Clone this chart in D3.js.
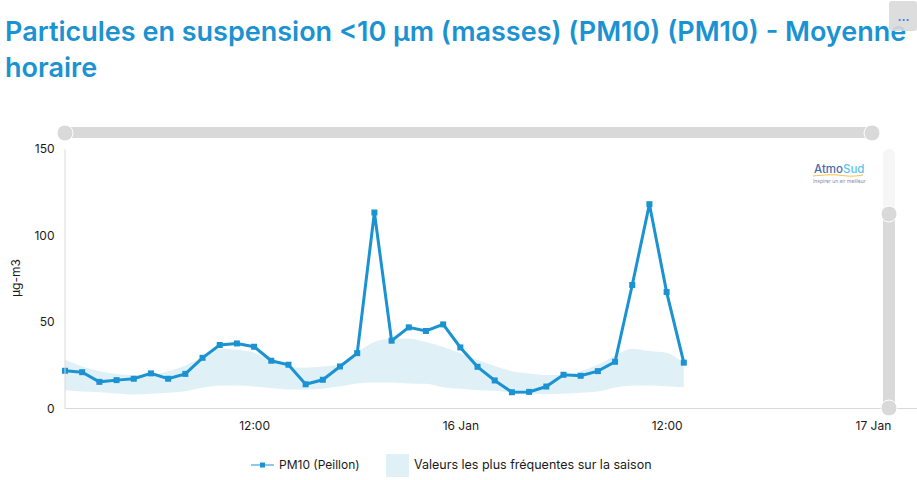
<!DOCTYPE html>
<html>
<head>
<meta charset="utf-8">
<script src="https://cdn.jsdelivr.net/npm/d3@7"></script>
<style>
  html, body { margin: 0; padding: 0; background: #fff; overflow: hidden; }
  svg { display: block; }
  text { font-family: Inter, "Open Sans", sans-serif; fill: #1a1a1a; }
  .axis path, .axis line { stroke: #d9d9d9; }
</style>
</head>
<body>
<svg id="chart" width="917" height="480"></svg>
<script>
const titleLines = ['Particules en suspension <10 µm (masses) (PM10) (PM10) - Moyenne', 'horaire'];
const unitLabel = 'µg-m3';
const seriesName = 'PM10 (Peillon)';
const bandName = 'Valeurs les plus fréquentes sur la saison';
const yTicks = [0, 50, 100, 150];
const xTickDates = ['2024-01-15T12:00Z', '2024-01-16T00:00Z', '2024-01-16T12:00Z', '2024-01-17T00:00Z'];
const xTickLabels = ['12:00', '16 Jan', '12:00', '17 Jan'];

const firstHour = new Date('2024-01-15T01:00Z');
const pm10 = [21.8, 21, 15.4, 16.4, 17.2, 20.3, 17.2, 20, 29.3, 36.7, 37.6, 35.7, 27.6, 25.3, 14, 16.6, 24.3,
    32, 113.3, 39.2, 46.9, 44.8, 48.6, 35.3, 24.1, 16.2, 9.4, 9.6, 12.7, 19.5, 18.9, 21.6, 27, 71.4, 118.1, 67.3, 26.5];
const bandHigh = [28.2, 24.3, 21.6, 20, 19.3, 19.5, 21.6, 24.9, 29.7, 34.6, 34, 32.4, 27.8, 24.3, 23.6, 24.3, 25.5,
    32.6, 38.4, 40.3, 40.3, 38.4, 35.5, 32, 28.2, 24.5, 21.6, 20.3, 19.3, 19.5, 21.6, 25.3, 30.7, 34.6, 33.2, 32.2, 25.9];
const bandLow = [10.6, 9.8, 9.4, 8.7, 8.1, 8.5, 9.1, 10, 12, 13.3, 13.3, 12.7, 11.8, 11, 11, 11.4, 12.8,
    14.5, 15.1, 15.1, 14.5, 14.3, 12.3, 11.4, 10.6, 10.2, 9.3, 8.5, 8.3, 8.5, 9.1, 9.8, 12.2, 13.1, 13.3, 12.9, 12.3];

const blue = '#1b92d1';
const bandColor = '#e0f0f7';
const grey = '#d9d9d9';

const hours = pm10.map((d, i) => d3.utcHour.offset(firstHour, i));
const x = d3.scaleUtc()
    .domain([firstHour, new Date('2024-01-17T02:34Z')])
    .range([65, 917]);
const y = d3.scaleLinear().domain([0, 150]).range([408.5, 149]);

const svg = d3.select('#chart');

// title
svg.selectAll('.title')
    .data(titleLines)
    .enter().append('text')
    .attr('class', 'title')
    .attr('x', 5)
    .attr('y', (d, i) => 41 + i * 36)
    .style('font-size', '27px')
    .style('font-weight', 600)
    .style('fill', blue)
    .text(d => d);

// band and line
const band = d3.area()
    .x((d, i) => x(hours[i]))
    .y0((d, i) => y(bandLow[i]))
    .y1(d => y(d))
    .curve(d3.curveMonotoneX);
svg.append('path').attr('d', band(bandHigh)).attr('fill', bandColor);

const line = d3.line()
    .x((d, i) => x(hours[i]))
    .y(d => y(d));
svg.append('path')
    .attr('d', line(pm10))
    .attr('fill', 'none')
    .attr('stroke', blue)
    .attr('stroke-width', 3);

const symbol = d3.symbol().type(d3.symbolSquare).size(36);
svg.selectAll('.pt')
    .data(pm10)
    .enter().append('path')
    .attr('class', 'pt')
    .attr('d', symbol)
    .attr('fill', blue)
    .attr('transform', (d, i) => `translate(${x(hours[i])},${y(d)})`);

// axes
const xAxis = d3.axisBottom(x)
    .tickValues(xTickDates.map(d => new Date(d)))
    .tickFormat((d, i) => xTickLabels[i])
    .tickSize(0)
    .tickPadding(13);
const gx = svg.append('g').attr('class', 'axis').attr('transform', 'translate(0,408)').call(xAxis);
gx.selectAll('text').style('font-size', '12px');

const yAxis = d3.axisLeft(y).tickValues(yTicks).tickSize(0).tickPadding(10);
const gy = svg.append('g').attr('class', 'axis').attr('transform', 'translate(64.5,0)').call(yAxis);
gy.selectAll('text').style('font-size', '12px');

svg.append('text')
    .attr('transform', 'translate(20,278) rotate(-90)')
    .attr('text-anchor', 'middle')
    .style('font-size', '12px')
    .text(unitLabel);

// horizontal zoom slider
svg.append('rect').attr('x', 65).attr('y', 127).attr('width', 808).attr('height', 11).attr('fill', grey);
svg.selectAll('.hhandle').data([65, 872]).enter().append('circle')
    .attr('class', 'hhandle')
    .attr('cx', d => d).attr('cy', 133).attr('r', 8)
    .attr('fill', grey).attr('stroke', '#fff');

// vertical zoom slider
svg.append('rect').attr('x', 883).attr('y', 149).attr('width', 12).attr('height', 260).attr('rx', 6).attr('fill', '#f6f6f6');
svg.append('rect').attr('x', 883).attr('y', 214).attr('width', 12).attr('height', 194).attr('fill', grey);
svg.selectAll('.vhandle').data([214, 408]).enter().append('circle')
    .attr('class', 'vhandle')
    .attr('cx', 889).attr('cy', d => d).attr('r', 8)
    .attr('fill', grey).attr('stroke', '#fff');

// logo
svg.append('text').attr('x', 814).attr('y', 173)
    .style('font-size', '11.5px').style('font-weight', 500).style('fill', '#4a6bb0')
    .text('Atmo')
    .append('tspan').style('fill', '#5cc3ee').text('Sud');
svg.append('path')
    .attr('d', d3.line().curve(d3.curveBasis)([[813, 176], [835, 174], [850, 177], [863, 175]]))
    .attr('fill', 'none').attr('stroke', '#f5c242').attr('stroke-width', 1);
svg.append('text').attr('x', 813).attr('y', 183)
    .style('font-size', '5px').style('fill', '#7d8db5')
    .text('Inspirer un air meilleur');

// legend
svg.append('line').attr('x1', 251).attr('x2', 274).attr('y1', 465).attr('y2', 465).attr('stroke', blue);
svg.append('path').attr('d', d3.symbol().type(d3.symbolSquare).size(25)).attr('fill', blue).attr('transform', 'translate(262.5,465)');
svg.append('text').attr('x', 279).attr('y', 469).style('font-size', '12px').text(seriesName);
svg.append('rect').attr('x', 386).attr('y', 454).attr('width', 23).attr('height', 23).attr('fill', bandColor);
svg.append('text').attr('x', 414).attr('y', 469).style('font-size', '12.5px').text(bandName);

// menu button
svg.append('rect').attr('x', 889).attr('y', 1).attr('width', 28).attr('height', 30).attr('rx', 3)
    .attr('fill', grey).attr('fill-opacity', 0.9);
svg.append('text').attr('x', 903.5).attr('y', 21).attr('text-anchor', 'middle')
    .style('font-size', '12px').style('font-weight', 700).style('fill', '#2f8cf0').text('...');
</script>
</body>
</html>
